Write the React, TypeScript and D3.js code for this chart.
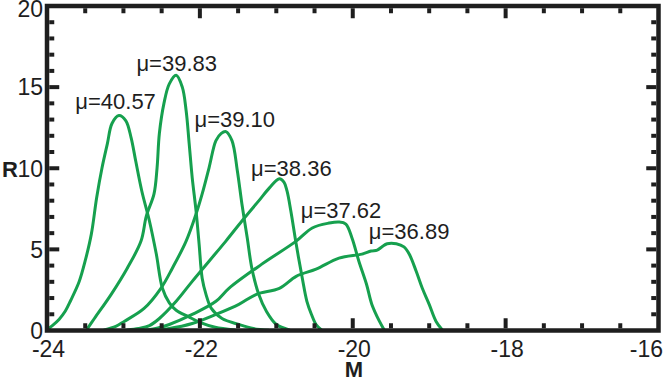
import React from "react";
import * as d3 from "d3";

const W = 664;
const H = 378;

const xMajorTicks = [-24, -22, -20, -18, -16];
const xTickLabels = ["-24", "-22", "-20", "-18", "-16"];
const yMajorTicks = [0, 5, 10, 15, 20];
const yTickLabels = ["0", "5", "10", "15", "20"];

const muLabels = ["μ=40.57", "μ=39.83", "μ=39.10", "μ=38.36", "μ=37.62", "μ=36.89"];
const labelX = [-23.63, -22.83, -22.07, -21.33, -20.68, -19.79];
const labelY = [13.67, 16.02, 12.56, 9.54, 6.94, 5.65];

const curve1 = [[-24.0,0.05],[-23.93,0.3],[-23.84,0.7],[-23.76,1.2],[-23.69,1.85],[-23.58,3.0],[-23.5,4.3],[-23.42,5.94],[-23.35,8.2],[-23.28,10.03],[-23.21,11.52],[-23.15,12.76],[-23.06,13.25],[-22.97,12.94],[-22.90,11.89],[-22.84,10.46],[-22.76,8.6],[-22.66,6.75],[-22.57,4.71],[-22.49,2.6],[-22.40,1.7],[-22.31,1.25],[-22.15,0.85],[-22.0,0.5],[-21.8,0.2],[-21.55,0.03]];
const curve2 = [[-23.48,0.05],[-23.38,0.74],[-23.16,2.23],[-22.95,3.84],[-22.77,5.51],[-22.70,7.06],[-22.60,8.42],[-22.56,10.03],[-22.53,12.14],[-22.47,14.0],[-22.40,15.2],[-22.31,15.73],[-22.23,15.0],[-22.18,13.56],[-22.14,11.52],[-22.10,9.41],[-22.05,7.37],[-22.01,5.33],[-21.97,3.22],[-21.92,2.23],[-21.85,1.36],[-21.71,0.74],[-21.49,0.37],[-21.3,0.12],[-21.1,0.02]];
const curve3 = [[-23.25,0.03],[-23.1,0.25],[-22.99,0.56],[-22.73,1.36],[-22.51,2.6],[-22.36,3.84],[-22.18,5.51],[-22.05,7.18],[-21.97,8.42],[-21.88,10.03],[-21.79,11.7],[-21.72,12.15],[-21.66,12.26],[-21.58,11.7],[-21.51,9.85],[-21.45,7.8],[-21.38,5.7],[-21.32,3.84],[-21.23,2.23],[-21.13,1.18],[-21.0,0.37],[-20.83,0.04]];
const curve4 = [[-22.95,0.03],[-22.8,0.12],[-22.66,0.3],[-22.53,0.74],[-22.31,1.8],[-22.10,3.03],[-21.88,4.27],[-21.66,5.51],[-21.45,6.75],[-21.23,7.99],[-21.09,8.79],[-20.96,9.35],[-20.90,9.15],[-20.86,8.6],[-20.81,7.37],[-20.74,5.33],[-20.66,3.22],[-20.60,1.8],[-20.54,0.99],[-20.48,0.37],[-20.41,0.04]];
const curve5 = [[-22.7,0.03],[-22.55,0.15],[-22.40,0.37],[-22.10,0.99],[-21.79,1.8],[-21.62,2.6],[-21.19,4.09],[-20.74,5.51],[-20.53,6.32],[-20.31,6.62],[-20.18,6.69],[-20.09,6.56],[-20.01,5.7],[-19.92,4.27],[-19.82,2.85],[-19.75,1.61],[-19.65,0.56],[-19.59,0.05]];
const curve6 = [[-22.6,0.02],[-22.40,0.12],[-22.10,0.43],[-21.79,0.99],[-21.49,1.61],[-21.26,2.23],[-20.96,2.6],[-20.74,3.34],[-20.48,3.78],[-20.18,4.46],[-19.88,4.71],[-19.76,4.9],[-19.68,4.95],[-19.62,5.15],[-19.55,5.35],[-19.43,5.35],[-19.33,5.15],[-19.26,4.7],[-19.17,3.65],[-19.09,2.6],[-19.0,1.61],[-18.91,0.56],[-18.83,0.05]];

const curves = [curve1, curve2, curve3, curve4, curve5, curve6];

const FONT = "'Liberation Sans', Arial, Helvetica, sans-serif";
const GREEN = "#16a04e";
const INK = "#1e1e1e";

export default function App() {
  const x = d3.scaleLinear().domain([-24, -16]).range([47, 658.5]);
  const y = d3.scaleLinear().domain([0, 20]).range([330.5, 6]);
  const line = d3
    .line<number[]>()
    .x((d) => x(d[0]))
    .y((d) => y(d[1]))
    .curve(d3.curveCatmullRom.alpha(0.5));

  const xMinor = d3.range(-24, -15.99, 0.5).filter((v) => Math.abs(v % 2) > 0.01);
  const yMinor = d3.range(0, 20.01, 1).filter((v) => v % 5 !== 0);
  const sw = 4.5;
  const half = sw / 2;
  const minorLen = 5;
  const majorLen = 10;
  const [x0, x1] = x.range();
  const [yb, yt] = y.range();

  return (
    <svg
      width={W}
      height={H}
      style={{ position: "absolute", left: 0, top: 0, display: "block", background: "#fff" }}
    >
      <rect width={W} height={H} fill="#fff" />
      <g fill="none" stroke={GREEN} strokeWidth={3} strokeLinejoin="round" strokeLinecap="round">
        {curves.map((c, i) => (
          <path key={i} d={line(c) || ""} />
        ))}
      </g>
      {/* frame */}
      <rect x={x0} y={yt} width={x1 - x0} height={yb - yt} fill="none" stroke={INK} strokeWidth={sw} />
      {/* ticks */}
      <g stroke={INK} strokeWidth={4}>
        {xMinor.map((v) => (
          <g key={"xm" + v}>
            <line x1={x(v)} x2={x(v)} y1={yb - half} y2={yb - half - minorLen} />
            <line x1={x(v)} x2={x(v)} y1={yt + half} y2={yt + half + minorLen} />
          </g>
        ))}
        {xMajorTicks.slice(1, -1).map((v) => (
          <g key={"xM" + v}>
            <line x1={x(v)} x2={x(v)} y1={yb - half} y2={yb - half - majorLen} />
            <line x1={x(v)} x2={x(v)} y1={yt + half} y2={yt + half + majorLen} />
          </g>
        ))}
        {yMinor.map((v) => (
          <g key={"ym" + v}>
            <line x1={x0 + half} x2={x0 + half + minorLen} y1={y(v)} y2={y(v)} />
            <line x1={x1 - half} x2={x1 - half - minorLen} y1={y(v)} y2={y(v)} />
          </g>
        ))}
        {yMajorTicks.slice(1, -1).map((v) => (
          <g key={"yM" + v}>
            <line x1={x0 + half} x2={x0 + half + majorLen} y1={y(v)} y2={y(v)} />
            <line x1={x1 - half} x2={x1 - half - majorLen} y1={y(v)} y2={y(v)} />
          </g>
        ))}
      </g>
      {/* tick labels */}
      <g fontFamily={FONT} fontSize={23} fill={INK}>
        {xMajorTicks.map((v, i) => {
          const last = i === xMajorTicks.length - 1;
          return (
            <text
              key={"xl" + v}
              x={last ? 663 : x(v) + 1.5}
              y={357}
              textAnchor={last ? "end" : "middle"}
            >
              {xTickLabels[i]}
            </text>
          );
        })}
        {yMajorTicks.map((v, i) => (
          <text key={"yl" + v} x={43} y={i === yMajorTicks.length - 1 ? y(v) + 3 : y(v)} dy="0.36em" textAnchor="end">
            {yTickLabels[i]}
          </text>
        ))}
      </g>
      {/* axis titles */}
      <g fontFamily={FONT} fontSize={22} fontWeight="bold" fill={INK}>
        <text x={2} y={177}>R</text>
        <text x={354} y={377} textAnchor="middle">M</text>
      </g>
      {/* curve labels */}
      <g fontFamily={FONT} fontSize={22} fill={INK}>
        {muLabels.map((t, i) => (
          <text key={t} x={x(labelX[i])} y={y(labelY[i])}>
            {t}
          </text>
        ))}
      </g>
    </svg>
  );
}
